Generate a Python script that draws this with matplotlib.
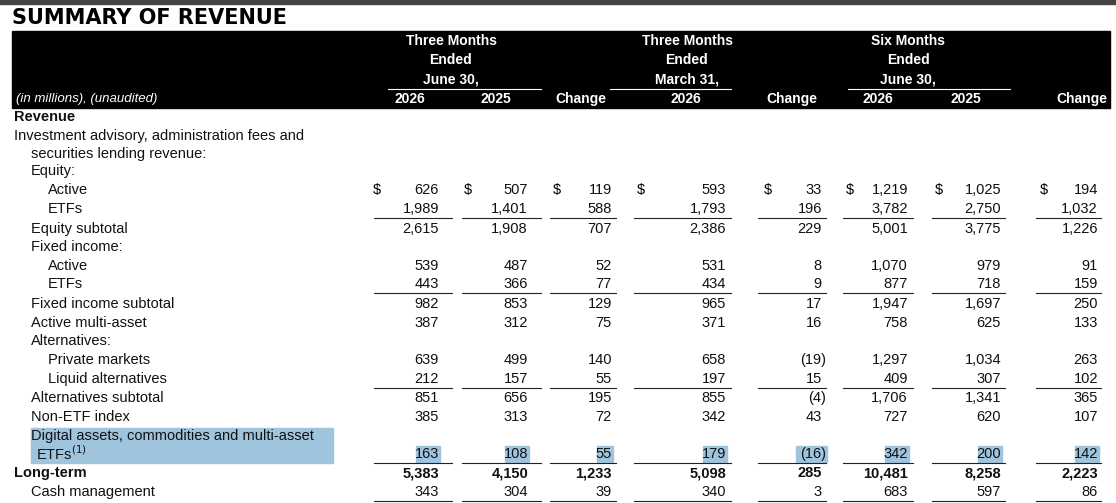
import matplotlib
matplotlib.use("Agg")
import matplotlib.pyplot as plt
from matplotlib.patches import Rectangle

labels = ["Revenue", "Investment advisory, administration fees and", "securities lending revenue:",
          "Equity:", "Active", "ETFs", "Equity subtotal", "Fixed income:", "Active", "ETFs",
          "Fixed income subtotal", "Active multi-asset", "Alternatives:", "Private markets",
          "Liquid alternatives", "Alternatives subtotal", "Non-ETF index",
          "Digital assets, commodities and multi-asset", "ETFs$^{(1)}$", "Long-term", "Cash management"]
indent = [0, 0, 1, 1, 2, 2, 1, 1, 2, 2, 1, 1, 1, 2, 2, 1, 1, 1, 1.3, 0, 1]
bold = [0, 0, 0, 0, 0, 0, 0, 0, 0, 0, 0, 0, 0, 0, 0, 0, 0, 0, 0, 1, 0]
E = None
values = [
    None, None, None, None,
    ["626", "507", "119", "593", "33", "1,219", "1,025", "194"],
    ["1,989", "1,401", "588", "1,793", "196", "3,782", "2,750", "1,032"],
    ["2,615", "1,908", "707", "2,386", "229", "5,001", "3,775", "1,226"],
    None,
    ["539", "487", "52", "531", "8", "1,070", "979", "91"],
    ["443", "366", "77", "434", "9", "877", "718", "159"],
    ["982", "853", "129", "965", "17", "1,947", "1,697", "250"],
    ["387", "312", "75", "371", "16", "758", "625", "133"],
    None,
    ["639", "499", "140", "658", "(19)", "1,297", "1,034", "263"],
    ["212", "157", "55", "197", "15", "409", "307", "102"],
    ["851", "656", "195", "855", "(4)", "1,706", "1,341", "365"],
    ["385", "313", "72", "342", "43", "727", "620", "107"],
    None,
    ["163", "108", "55", "179", "(16)", "342", "200", "142"],
    ["5,383", "4,150", "1,233", "5,098", "285", "10,481", "8,258", "2,223"],
    ["343", "304", "39", "340", "3", "683", "597", "86"],
]
underline_rows = [5, 9, 14, 18, 20]
groups = [["Three Months", "Ended", "June 30,"], ["Three Months", "Ended", "March 31,"],
          ["Six Months", "Ended", "June 30,"]]
col_heads = ["2026", "2025", "Change", "2026", "Change", "2026", "2025", "Change"]

FONT = "Liberation Sans"
fig = plt.figure(figsize=(11.16, 5.03), dpi=100)
ax = fig.add_axes([0, 0, 1, 1])
ax.set_xlim(0, 1116); ax.set_ylim(503, 0); ax.axis("off")

ax.add_patch(Rectangle((0, 0), 1116, 4, color="#444444"))
ax.text(12, 18, "SUMMARY OF REVENUE", fontsize=15, fontweight="bold", family="DejaVu Sans",
        va="center", ha="left")
ax.add_patch(Rectangle((12, 31), 1098, 77, color="black"))

num_right = [439, 528, 612, 726, 822, 908, 1001, 1098]
dollar_x = [373, 464, 553, 637, 764, 846, 935, 1040]
seg = [(374, 452), (462, 541), (550, 616), (634, 731), (758, 826), (843, 913), (932, 1005), (1036, 1101)]
head_x = [410, 496, 581, 686, 792, 878, 966, 1082]
group_x = [451, 687, 908]
group_line = [(388, 541), (610, 731), (848, 1010)]

for g, gx, (a, b) in zip(groups, group_x, group_line):
    for k, t in enumerate(g):
        ax.text(gx, 41 + 19 * k, t, color="white", fontsize=10, fontweight="bold", family=FONT,
                ha="center", va="center")
    ax.plot([a, b], [88.5, 88.5], color="white", lw=0.8)
for hx, t in zip(head_x, col_heads):
    ax.text(hx, 99, t, color="white", fontsize=10, fontweight="bold", family=FONT, ha="center", va="center")
ax.text(16, 99, "(in millions), (unaudited)", color="white", fontsize=9.5, style="italic",
        family=FONT, ha="left", va="center")

row_y = [117, 136, 154, 171, 190, 209, 229, 247, 266, 284, 304, 323, 341, 360, 379, 398, 417, 436, 454, 473, 492]
ax.add_patch(Rectangle((31, 428), 302, 35, color="#9fc4de"))
for i, (lab, ind, b, y) in enumerate(zip(labels, indent, bold, row_y)):
    ax.text(14 + ind * 17, y, lab, fontsize=10.5 if i else 10.5, fontweight="bold" if (b or i == 0) else "normal",
            family=FONT, ha="left", va="center", color="#111111")
    v = values[i]
    if v is None:
        continue
    for j, s in enumerate(v):
        xr = num_right[j] + (4 if s.endswith(")") else 0)
        if i == 18:
            w = 7.2 * len(s) + 2
            ax.add_patch(Rectangle((xr - w + 1, y - 8), w, 16, color="#9fc4de"))
        ax.text(xr, y, s, fontsize=10.5, fontweight="bold" if b else "normal", family=FONT,
                ha="right", va="center", color="#111111")
        if i == 4:
            ax.text(dollar_x[j], y, "$", fontsize=10.5, family=FONT, ha="left", va="center")
    if i in underline_rows:
        for a, c in seg:
            ax.plot([a, c], [y + 8.5, y + 8.5], color="#222222", lw=0.8)

fig.savefig("out.png", dpi=100)
